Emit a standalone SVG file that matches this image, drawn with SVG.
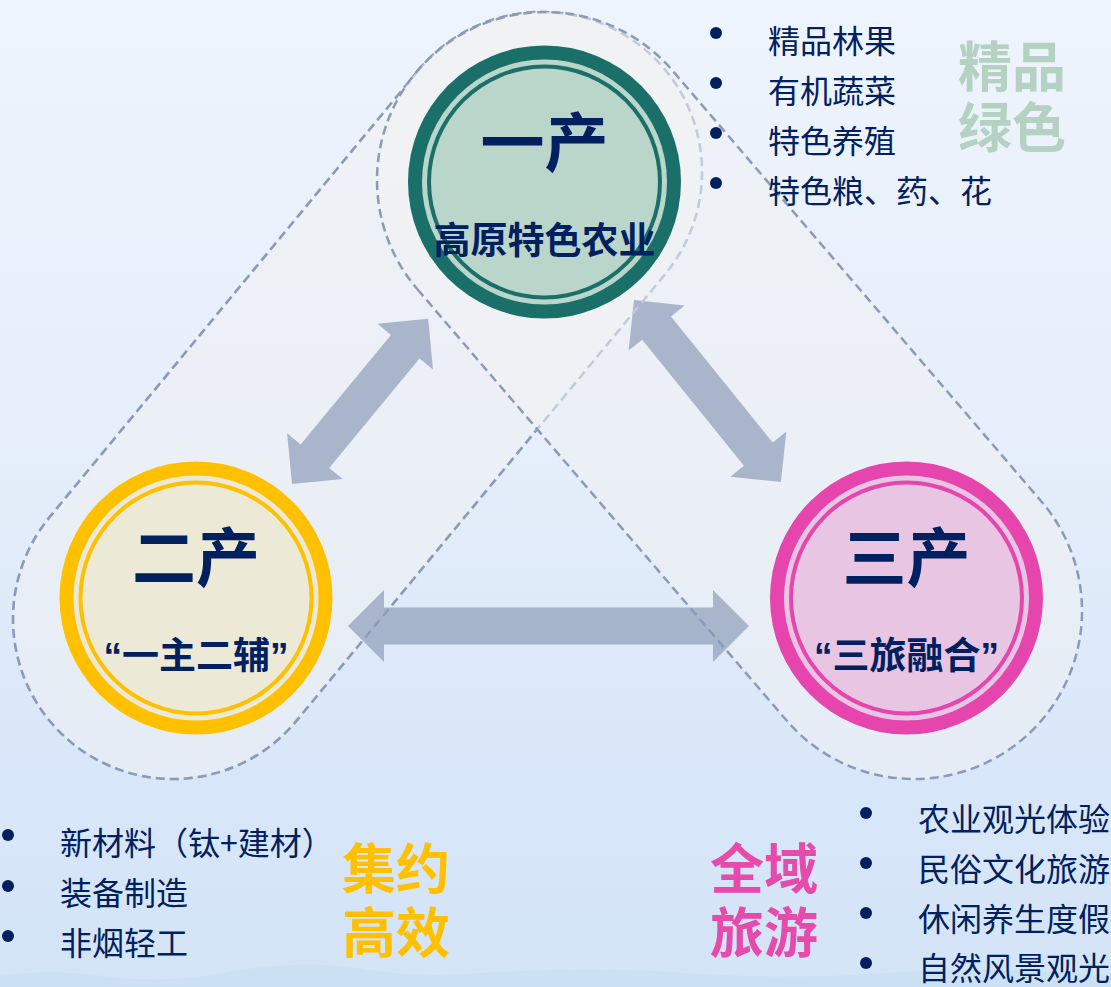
<svg xmlns="http://www.w3.org/2000/svg" width="1111" height="987" viewBox="0 0 1111 987">
<defs>
<linearGradient id="bg" x1="0" y1="0" x2="0" y2="1">
<stop offset="0" stop-color="#eef4fd"/>
<stop offset="0.45" stop-color="#e5eefa"/>
<stop offset="0.8" stop-color="#d8e6f9"/>
<stop offset="1" stop-color="#d3e4f6"/>
</linearGradient>
<path id="capL" d="M418.6,70.1 L49.6,517.1 A160,160 0 0 0 296.4,720.9 L665.4,273.9 A160,160 0 0 0 418.6,70.1 Z"/>
<path id="capR" d="M417.4,289.3 L786.4,720.3 A168,168 0 0 0 1041.6,501.7 L672.6,70.7 A168,168 0 0 0 417.4,289.3 Z"/>
<mask id="outR" maskUnits="userSpaceOnUse" x="0" y="0" width="1111" height="987">
<rect width="1111" height="987" fill="#fff"/>
<use href="#capR" fill="#000"/>
</mask>
</defs>
<style>
.capfill{fill:#f2f2f2;fill-opacity:0.5}
.capline{fill:none;stroke:#8a9bba;stroke-width:2.5;stroke-dasharray:9 5}
.capline-light{fill:none;stroke:#c3cad8;stroke-width:2.5;stroke-dasharray:9 5}
.arrow{fill:#97a6c0;fill-opacity:0.8}
.ttl{font-family:"Noto Sans CJK SC",sans-serif;font-weight:700;fill:#002060;text-anchor:middle}
.big{font-size:64px}
.sub{font-size:37px;font-family:"Liberation Sans","Noto Sans CJK SC",sans-serif}
.li{font-family:"Noto Sans CJK SC",sans-serif;font-size:32px;fill:#002060}
.dot{fill:#002060}
.tag{font-family:"Noto Sans CJK SC",sans-serif;font-weight:700;font-size:54px}
</style>
<rect width="1111" height="987" fill="url(#bg)"/>
<path d="M0,987 L0,976 Q50,968 110,977 Q170,984 230,972 Q300,958 370,970 Q420,978 480,973 Q600,966 700,974 Q800,980 900,972 Q1000,966 1111,976 L1111,987 Z" fill="#c8ddf1" fill-opacity="0.6"/>

<g id="capsules">
<use href="#capL" class="capfill"/>
<use href="#capR" class="capfill"/>
</g>

<g id="connectors">
<polygon class="arrow" transform="translate(292,484) rotate(-50.5)" points="0,0 36,-36 36,-18.5 178,-18.5 178,-36 214,0 178,36 178,18.5 36,18.5 36,36"/>
<polygon class="arrow" transform="translate(634,300) rotate(51.1)" points="0,0 36,-36 36,-18.5 198,-18.5 198,-36 234,0 198,36 198,18.5 36,18.5 36,36"/>
<polygon class="arrow" transform="translate(348,626)" points="0,0 36,-36 36,-18.5 365,-18.5 365,-36 401,0 365,36 365,18.5 36,18.5 36,36"/>
</g>

<g id="capsule-outlines">
<use href="#capL" class="capline-light"/>
<use href="#capL" class="capline" mask="url(#outR)"/>
<use href="#capR" class="capline"/>
</g>

<g id="node-primary">
<circle cx="544.5" cy="182" r="136.5" fill="#1a7068"/>
<circle cx="544.5" cy="182" r="122.5" fill="#bad5ca"/>
<circle cx="544.5" cy="182" r="117.5" fill="#1a7068"/>
<circle cx="544.5" cy="182" r="113.5" fill="#bad5ca"/>
<text class="ttl big" x="544.5" y="166">一产</text>
<text class="ttl" x="544.5" y="254" font-size="37">高原特色农业</text>
</g>

<g id="node-secondary">
<circle cx="196" cy="598" r="136.5" fill="#ffc000"/>
<circle cx="196" cy="598" r="122.5" fill="#ede9d7"/>
<circle cx="196" cy="598" r="117.5" fill="#ffc000"/>
<circle cx="196" cy="598" r="113.5" fill="#ede9d7"/>
<text class="ttl big" x="196" y="581">二产</text>
<text class="ttl sub" x="196" y="669">“一主二辅”</text>
</g>

<g id="node-tertiary">
<circle cx="906.5" cy="598" r="136.5" fill="#e545ac"/>
<circle cx="906.5" cy="598" r="122.5" fill="#e7c5e3"/>
<circle cx="906.5" cy="598" r="117.5" fill="#e545ac"/>
<circle cx="906.5" cy="598" r="113.5" fill="#e7c5e3"/>
<text class="ttl big" x="906.5" y="581">三产</text>
<text class="ttl sub" x="906.5" y="669">“三旅融合”</text>
</g>

<g id="list-primary">
<circle class="dot" cx="716" cy="33" r="6"/>
<circle class="dot" cx="716" cy="83" r="6"/>
<circle class="dot" cx="716" cy="133" r="6"/>
<circle class="dot" cx="716" cy="183" r="6"/>
<text class="li" x="768" y="53">精品林果</text>
<text class="li" x="768" y="103">有机蔬菜</text>
<text class="li" x="768" y="153">特色养殖</text>
<text class="li" x="768" y="203">特色粮、药、花</text>
<text class="tag" fill="#b4d1c2"><tspan x="958" y="87">精品</tspan><tspan x="958" y="148">绿色</tspan></text>
</g>

<g id="list-secondary">
<circle class="dot" cx="8" cy="835" r="6"/>
<circle class="dot" cx="8" cy="886" r="6"/>
<circle class="dot" cx="8" cy="936" r="6"/>
<text class="li" x="60" y="855">新材料（钛+建材）</text>
<text class="li" x="60" y="905">装备制造</text>
<text class="li" x="60" y="955">非烟轻工</text>
<text class="tag" fill="#ffc000"><tspan x="342" y="889">集约</tspan><tspan x="342" y="953">高效</tspan></text>
</g>

<g id="list-tertiary">
<circle class="dot" cx="866" cy="813" r="6"/>
<circle class="dot" cx="866" cy="863" r="6"/>
<circle class="dot" cx="866" cy="913" r="6"/>
<circle class="dot" cx="866" cy="963" r="6"/>
<text class="li" x="918" y="831">农业观光体验</text>
<text class="li" x="918" y="881">民俗文化旅游</text>
<text class="li" x="918" y="931">休闲养生度假</text>
<text class="li" x="918" y="980">自然风景观光</text>
<text class="tag" fill="#e64aab"><tspan x="710" y="889">全域</tspan><tspan x="710" y="953">旅游</tspan></text>
</g>
</svg>
